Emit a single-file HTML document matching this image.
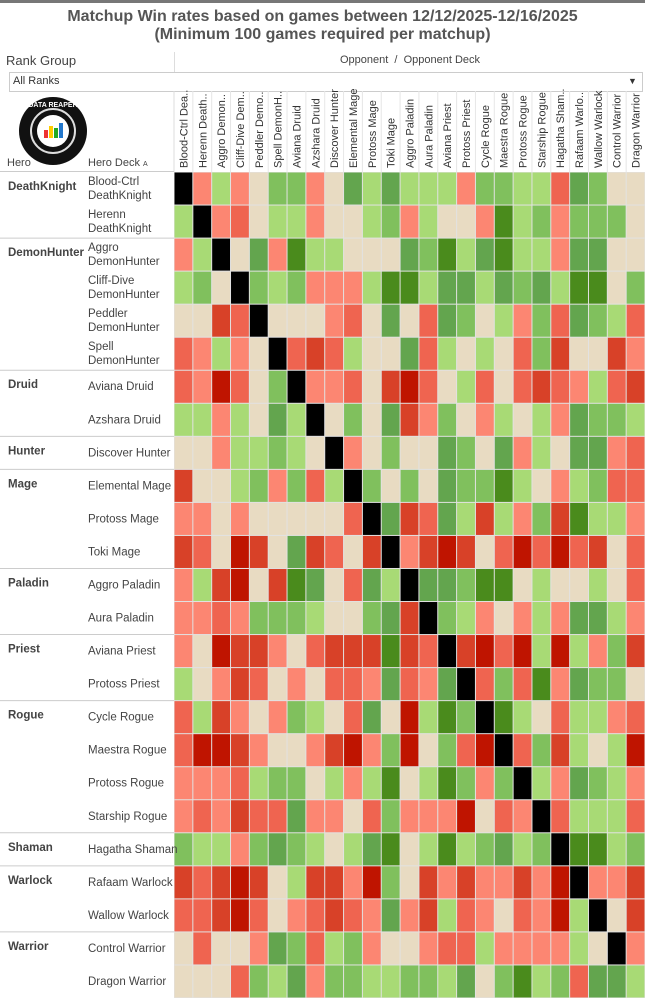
<!DOCTYPE html>
<html><head><meta charset="utf-8"><style>
body{margin:0;width:645px;height:998px;background:#fff;font-family:"Liberation Sans",sans-serif;position:relative;overflow:hidden}
.a{position:absolute;white-space:nowrap}
</style></head><body>
<div class="a" style="left:0;top:0;width:645px;height:3px;background:#777"></div>
<div class="a" style="left:0;top:8px;width:645px;text-align:center;font-weight:bold;font-size:16px;color:#555;line-height:18px">Matchup Win rates based on games between 12/12/2025-12/16/2025<br>(Minimum 100 games required per matchup)</div>
<div class="a" style="left:6px;top:53px;font-size:13px;color:#444">Rank Group</div>
<div class="a" style="left:174px;top:52px;width:1px;height:20px;background:#ddd"></div>
<div class="a" style="left:340px;top:54px;font-size:11px;color:#444">Opponent &nbsp;/ &nbsp;Opponent Deck</div>
<div class="a" style="left:9px;top:72px;width:632px;height:18px;border:1px solid #ccc;background:#fff"></div>
<div class="a" style="left:13px;top:75px;font-size:11px;color:#333">All Ranks</div>
<div class="a" style="left:628px;top:76px;font-size:9px;color:#333">▼</div>
<div class="a" style="left:7px;top:157px;font-size:11px;color:#444">Hero</div>
<div class="a" style="left:88px;top:157px;font-size:11px;color:#444">Hero Deck <span style="font-size:7px">A</span></div>
<svg id="g" class="a" style="left:0;top:0" width="645" height="998"></svg>
<script>
var cols=["Blood-Ctrl Dea..","Herenn Death..","Aggro Demon..","Cliff-Dive Dem..","Peddler Demo..","Spell DemonH..","Aviana Druid","Azshara Druid","Discover Hunter","Elemental Mage","Protoss Mage","Toki Mage","Aggro Paladin","Aura Paladin","Aviana Priest","Protoss Priest","Cycle Rogue","Maestra Rogue","Protoss Rogue","Starship Rogue","Hagatha Sham..","Rafaam Warlo..","Wallow Warlock","Control Warrior","Dragon Warrior"];
var rows=[
"KplpbggpbGlGlllpgglloGgbb",
"lKpobllpbblgplbbpDlgpgggb",
"plKbGpDllbbbGgDlGDllpGGbb",
"lgbKglgppplDDlGGlGgGlDDbg",
"bbroKbbbpobGboGgblpgoGglo",
"oplpbKorolbbGolblbogrbbrp",
"opRobgKppobrRobloboroplor",
"llplbGlKbgbGrpgbplblpGggl",
"bbpllglbKpbgbbGgbGplbGGpo",
"rbblgpgolKgbgbGggDlbplgoo",
"ppbpbbbbboKGroGlrlpgrDllp",
"robRrbGrobrKprRrboRoRorbo",
"plrRbrDGboGlKGGgDDblbblbo",
"ppopggglbbgGrKglpbplpGGlp",
"pbRrrpborrrDroKrRoRlRlpgr",
"lbprobpboopGopGKogoDpGggb",
"olrpbpglboGbRlDgKDlbollpo",
"oRRrpbbprRpgRbgoRKogrlblR",
"pppolggblplDblDgpgKlpGglp",
"poprooGppbogpppRbopKolllo",
"gllpgGglblGDblDlgGlgKDDlg",
"rorRrblrrpRgbrprpprpRKppr",
"oorRobporopGprlopbopRlKbr",
"bobbpGgolgpbbpoolpppplbKp",
"bbboglGpggllgglGbgDlgoGGlK"];
var C={K:"#000",R:"#bf1400",r:"#d84128",o:"#ef6450",p:"#fc8672",b:"#e8dbc2",l:"#a8da75",g:"#80c05d",G:"#63a54e",D:"#4a8b1c"};
var s="",x0=174,y0=172,cw=471/25,rh=826/25,F='font-family="Liberation Sans"';
s+='<line x1="174" y1="91" x2="174" y2="172" stroke="#ddd"/>';
for(var j=0;j<25;j++){var cx=x0+j*cw;
 if(j>0)s+='<line x1="'+cx+'" y1="91" x2="'+cx+'" y2="172" stroke="#e6e6e6"/>';
 s+='<text transform="translate('+(cx+cw/2+4)+',168) rotate(-90)" font-size="11" fill="#333" '+F+'>'+cols[j]+'</text>';}
s+='<line x1="0" y1="171.5" x2="174" y2="171.5" stroke="#ccc"/>';
s+='<rect x="174" y="172" width="471" height="826" fill="#e2e2e2"/>';
for(var i=0;i<25;i++){var r=rows[i];for(var j=0;j<25;j++){var ch=r[j]||"b";
 s+='<rect x="'+(x0+j*cw+0.5).toFixed(2)+'" y="'+(y0+i*rh+0.5).toFixed(2)+'" width="'+(cw-1).toFixed(2)+'" height="'+(rh-1).toFixed(2)+'" fill="'+C[ch]+'"/>';}}
var decks=[["Blood-Ctrl","DeathKnight"],["Herenn","DeathKnight"],["Aggro","DemonHunter"],["Cliff-Dive","DemonHunter"],["Peddler","DemonHunter"],["Spell","DemonHunter"],["Aviana Druid"],["Azshara Druid"],["Discover Hunter"],["Elemental Mage"],["Protoss Mage"],["Toki Mage"],["Aggro Paladin"],["Aura Paladin"],["Aviana Priest"],["Protoss Priest"],["Cycle Rogue"],["Maestra Rogue"],["Protoss Rogue"],["Starship Rogue"],["Hagatha Shaman"],["Rafaam Warlock"],["Wallow Warlock"],["Control Warrior"],["Dragon Warrior"]];
var heroes=[[0,"DeathKnight"],[2,"DemonHunter"],[6,"Druid"],[8,"Hunter"],[9,"Mage"],[12,"Paladin"],[14,"Priest"],[16,"Rogue"],[20,"Shaman"],[21,"Warlock"],[23,"Warrior"]];
heroes.forEach(function(h){var y=y0+h[0]*rh;
 if(h[0]>0)s+='<line x1="0" y1="'+y+'" x2="174" y2="'+y+'" stroke="#ccc"/>';
 s+='<text x="8" y="'+(y+18)+'" font-size="11.5" font-weight="bold" fill="#444" '+F+'>'+h[1]+'</text>';});
decks.forEach(function(d,i){var y=y0+i*rh;
 if(d.length==2){s+='<text x="88" y="'+(y+13)+'" font-size="11.5" fill="#444" '+F+'>'+d[0]+'</text><text x="88" y="'+(y+27)+'" font-size="11.5" fill="#444" '+F+'>'+d[1]+'</text>';}
 else s+='<text x="88" y="'+(y+20)+'" font-size="11.5" fill="#444" '+F+'>'+d[0]+'</text>';});
s+='<g transform="translate(53,131)"><circle r="34" fill="#111"/><circle r="22" fill="none" stroke="#ddd" stroke-width="2"/><circle r="16" fill="#fff"/>'+
'<rect x="-9" y="-1" width="4" height="8" fill="#e33"/><rect x="-4" y="-5" width="4" height="12" fill="#fc0"/><rect x="1" y="-3" width="4" height="10" fill="#2a2"/><rect x="6" y="-8" width="4" height="15" fill="#27c"/>'+
'<text y="-24" font-size="7" fill="#fff" text-anchor="middle" font-weight="bold" '+F+'>DATA REAPER</text></g>';
document.getElementById("g").innerHTML=s;
</script>
</body></html>
